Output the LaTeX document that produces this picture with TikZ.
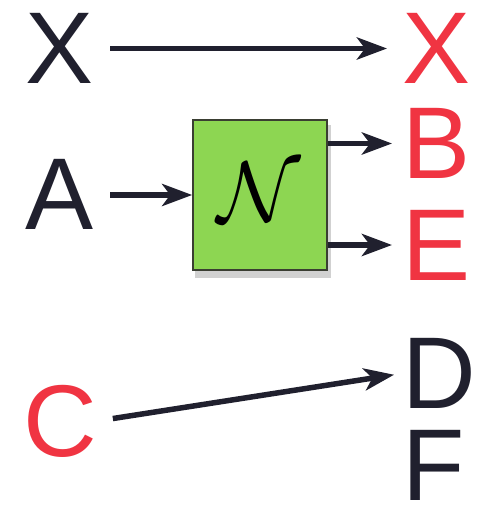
\documentclass[tikz,border=0pt]{standalone}
\usepackage{fontspec}
\setmainfont{Liberation Sans}
\usetikzlibrary{positioning, arrows.meta, calc, shadows}
\definecolor{inkDark}{RGB}{32,32,46}
\definecolor{inkRed}{RGB}{240,52,66}
\definecolor{netFill}{RGB}{141,214,82}
\definecolor{netBrd}{RGB}{58,62,50}
\tikzset{
  every node/.style={font=\fontsize{102}{102}\selectfont, inner sep=0pt},
  VIN/.style={text=inkDark},
  VOUT/.style={text=inkRed, anchor=west},
  VOUTK/.style={text=inkDark, anchor=west},
  NET/.style={draw=netBrd, fill=netFill, line width=1.6pt,
    minimum width=134pt, minimum height=150pt,
    drop shadow={shadow xshift=3pt, shadow yshift=-6pt, shadow scale=1.02,
      opacity=0.18, fill=black}},
  AR/.style={-{Stealth[length=30pt, width=22pt, inset=8pt]}, line width=5.5pt, inkDark},
}

\begin{document}
\begin{tikzpicture}[x=1pt, y=1pt, yscale=-1]
\useasboundingbox (0,0) rectangle (485,509);

\def\xl{60}
\def\xr{402}

%% inputs (left column)
\node[VIN] (XIN) at (\xl,48.5) {X};
\node[VIN] (A)   at (\xl,194) {A};
\node[VIN, text=inkRed] (C) at (\xl,421) {C};

%% outputs (right column)
\node[VOUT]  (XOUT) at (\xr,48.5) {X};
\node[VOUT]  (B)    at (\xr,143.5) {B};
\node[VOUT]  (E)    at (\xr,245) {E};
\node[VOUTK] (D)    at (\xr,373.5) {D};
\node[VOUTK] (F)    at (\xr,465) {F};

%% network block
\node[NET] (NET) at (260,195) {};
\node[scale=8.6, font=\normalsize] at (259,192) {$\mathcal{N}$};

%% connectors
\draw[AR, shorten <=16pt, shorten >=15pt] (XIN.east) -- (XOUT.west);
\draw[AR, shorten <=16pt] (A.east |- NET.west) -- (NET.west);
\draw[AR, shorten >=10pt] (NET.east |- B.west) -- (B.west);
\draw[AR, shorten >=10pt] (NET.east |- E.west) -- (E.west);
\draw[AR, shorten <=16pt, shorten >=8pt] (C.east) -- (D.west);

\end{tikzpicture}
\end{document}
